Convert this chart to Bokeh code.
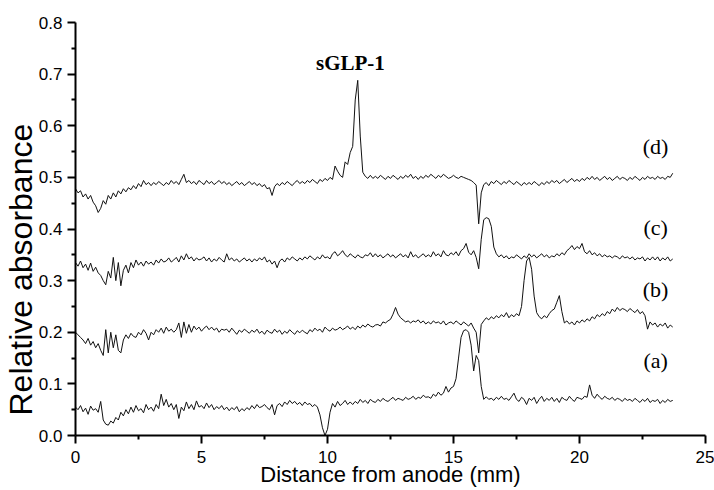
from bokeh.plotting import figure
from bokeh.models import Range1d, FixedTicker, PrintfTickFormatter, Label, ColumnDataSource, Title
from bokeh.embed import file_html
from bokeh.resources import INLINE

# ---- data ----
x_start = 0.0
x_step = 0.1
n_points = 238
distance_mm = [round(x_start + i * x_step, 1) for i in range(n_points)]

trace_a = [
    .055, .050, .058, .046, .053, .041, .057, .049, .052, .045,
    .066, .030, .022, .020, .028, .024, .035, .030, .045, .038,
    .050, .042, .055, .045, .058, .048, .052, .044, .060, .050,
    .055, .047, .060, .052, .080, .058, .070, .055, .062, .050,
    .060, .033, .055, .048, .065, .052, .060, .050, .067, .055,
    .058, .052, .063, .054, .060, .050, .056, .052, .058, .050,
    .055, .048, .054, .050, .056, .046, .052, .048, .054, .050,
    .058, .052, .060, .054, .056, .060, .054, .050, .060, .040,
    .058, .062, .056, .065, .060, .068, .062, .066, .060, .064,
    .058, .065, .060, .062, .056, .060, .055, .040, .015, .000,
    .012, .045, .062, .055, .066, .058, .062, .068, .060, .065,
    .060, .066, .062, .070, .064, .068, .062, .070, .066, .064,
    .070, .066, .072, .068, .066, .070, .074, .068, .072, .070,
    .068, .074, .070, .072, .076, .070, .074, .072, .078, .074,
    .075, .072, .080, .076, .084, .078, .082, .095, .084, .092,
    .095, .110, .150, .190, .203, .205, .200, .175, .125, .155,
    .145, .095, .070, .075, .070, .072, .068, .074, .070, .076,
    .070, .072, .068, .075, .082, .070, .066, .074, .070, .060,
    .072, .068, .074, .062, .070, .076, .066, .072, .068, .074,
    .066, .072, .064, .074, .070, .068, .076, .070, .066, .074,
    .072, .070, .076, .074, .098, .078, .072, .080, .074, .070,
    .076, .072, .070, .074, .068, .072, .070, .066, .072, .068,
    .070, .066, .072, .068, .064, .070, .066, .072, .064, .068,
    .066, .070, .062, .068, .064, .070, .066, .068,
]

trace_b = [
    .200, .195, .190, .185, .178, .188, .175, .182, .170, .178,
    .165, .155, .205, .160, .200, .170, .195, .165, .160, .185,
    .195, .188, .198, .192, .190, .200, .195, .205, .198, .185,
    .200, .195, .205, .200, .208, .198, .210, .202, .206, .200,
    .205, .218, .190, .220, .198, .215, .200, .212, .205, .210,
    .202, .208, .212, .205, .210, .204, .208, .200, .206, .204,
    .206, .200, .208, .202, .196, .204, .200, .206, .202, .198,
    .204, .200, .206, .198, .202, .196, .204, .200, .198, .206,
    .200, .204, .196, .202, .198, .205, .200, .196, .203, .199,
    .204, .200, .197, .205, .201, .208, .203, .206, .200, .210,
    .205, .202, .208, .204, .206, .210, .205, .208, .212, .206,
    .210, .205, .212, .208, .214, .210, .216, .212, .210, .214,
    .215, .212, .220, .218, .222, .225, .235, .248, .235, .228,
    .224, .220, .222, .218, .222, .220, .224, .218, .222, .216,
    .220, .216, .222, .218, .220, .216, .222, .214, .218, .220,
    .216, .222, .218, .214, .220, .216, .212, .218, .208, .200,
    .160, .215, .222, .228, .224, .230, .226, .232, .228, .234,
    .230, .238, .228, .234, .230, .236, .232, .250, .300, .338,
    .345, .322, .270, .238, .230, .226, .232, .228, .236, .242,
    .245, .258, .271, .240, .218, .222, .216, .220, .214, .222,
    .218, .224, .220, .226, .222, .230, .226, .234, .230, .236,
    .232, .240, .236, .245, .240, .248, .242, .246, .244, .240,
    .246, .242, .238, .244, .236, .240, .232, .206, .220, .214,
    .218, .210, .216, .212, .218, .208, .214, .210,
]

trace_c = [
    .335, .328, .338, .325, .332, .320, .334, .318, .326, .315,
    .310, .300, .292, .318, .305, .345, .300, .335, .290, .320,
    .330, .315, .335, .325, .340, .330, .336, .328, .338, .332,
    .336, .330, .340, .334, .342, .336, .338, .344, .336, .340,
    .345, .336, .348, .340, .352, .342, .346, .338, .344, .340,
    .342, .346, .338, .344, .336, .342, .338, .345, .340, .336,
    .352, .340, .344, .338, .342, .336, .340, .344, .338, .342,
    .336, .342, .338, .344, .340, .346, .336, .340, .332, .338,
    .325, .338, .342, .336, .344, .340, .346, .342, .338, .344,
    .340, .346, .342, .348, .344, .340, .346, .342, .350, .344,
    .346, .342, .352, .356, .348, .352, .358, .350, .346, .352,
    .348, .344, .350, .346, .344, .350, .348, .354, .346, .352,
    .346, .350, .344, .348, .352, .346, .350, .344, .348, .352,
    .346, .350, .344, .356, .346, .350, .344, .348, .352, .346,
    .350, .346, .356, .348, .352, .346, .358, .350, .348, .354,
    .350, .356, .348, .358, .362, .372, .355, .350, .358, .345,
    .323, .380, .418, .422, .420, .405, .365, .352, .346, .350,
    .344, .348, .342, .346, .344, .350, .346, .342, .348, .344,
    .352, .346, .350, .344, .348, .352, .346, .350, .344, .348,
    .346, .352, .348, .354, .350, .358, .362, .368, .360, .366,
    .362, .372, .356, .352, .358, .350, .354, .348, .352, .346,
    .350, .346, .348, .344, .348, .346, .342, .348, .344, .346,
    .342, .346, .340, .344, .342, .346, .338, .344, .340, .346,
    .340, .346, .338, .344, .340, .346, .338, .342,
]

trace_d = [
    .478, .470, .474, .462, .468, .458, .465, .452, .445, .432,
    .440, .455, .448, .465, .458, .470, .462, .474, .468, .478,
    .472, .480, .476, .484, .478, .488, .482, .494, .486, .490,
    .484, .490, .486, .492, .488, .484, .490, .486, .494, .488,
    .492, .486, .496, .506, .490, .494, .488, .492, .486, .494,
    .490, .486, .494, .488, .492, .486, .490, .494, .488, .492,
    .486, .490, .484, .488, .492, .486, .490, .484, .488, .492,
    .486, .490, .484, .488, .482, .486, .478, .480, .465, .482,
    .488, .484, .490, .486, .492, .488, .484, .490, .494, .488,
    .492, .488, .494, .490, .496, .492, .488, .496, .492, .498,
    .494, .500, .496, .522, .512, .504, .500, .530, .525, .548,
    .560, .650, .688, .580, .510, .502, .498, .504, .498, .502,
    .498, .504, .500, .496, .502, .498, .504, .500, .496, .502,
    .498, .504, .500, .506, .498, .502, .496, .502, .498, .504,
    .500, .506, .502, .498, .504, .500, .506, .502, .498, .500,
    .504, .500, .498, .502, .500, .498, .496, .494, .490, .485,
    .410, .470, .486, .490, .484, .492, .488, .494, .490, .486,
    .492, .488, .494, .490, .486, .492, .488, .484, .490, .486,
    .490, .486, .492, .488, .484, .490, .486, .492, .488, .494,
    .490, .494, .488, .492, .496, .490, .494, .498, .492, .496,
    .492, .498, .494, .500, .496, .502, .496, .500, .494, .498,
    .502, .496, .500, .494, .498, .502, .496, .500, .498, .494,
    .500, .496, .502, .498, .494, .500, .496, .502, .498, .500,
    .496, .502, .498, .500, .496, .502, .500, .508,
]

trace_names = ["(a)", "(b)", "(c)", "(d)"]
x_ticks = [0, 5, 10, 15, 20, 25]
x_minor = [2.5, 7.5, 12.5, 17.5, 22.5]
y_ticks = [0.0, 0.1, 0.2, 0.3, 0.4, 0.5, 0.6, 0.7, 0.8]
y_minor = [0.05, 0.15, 0.25, 0.35, 0.45, 0.55, 0.65, 0.75]
peak_label = "sGLP-1"

# ---- figure ----
p = figure(width=714, height=490, x_range=Range1d(0, 25), y_range=Range1d(0, 0.8),
           output_backend="svg", toolbar_location=None,
           min_border_left=75, min_border_right=9, min_border_top=22, min_border_bottom=55)
p.xgrid.visible = False
p.ygrid.visible = False
p.outline_line_color = None
p.background_fill_color = "white"
p.border_fill_color = "white"

src = ColumnDataSource(dict(x=distance_mm, a=trace_a, b=trace_b, c=trace_c, d=trace_d))
for col in ["a", "b", "c", "d"]:
    p.line("x", col, source=src, line_color="#111111", line_width=1)

for ax in (p.xaxis[0], p.yaxis[0]):
    ax.axis_line_width = 2
    ax.axis_line_color = "black"
    ax.major_tick_line_width = 2
    ax.minor_tick_line_width = 2
    ax.major_tick_line_color = "black"
    ax.minor_tick_line_color = "black"
    ax.major_tick_out = 8
    ax.major_tick_in = 0
    ax.minor_tick_out = 4
    ax.minor_tick_in = 0
    ax.major_label_text_font = "Liberation Sans"
    ax.major_label_text_font_size = "17px"
    ax.major_label_text_color = "black"

p.xaxis[0].ticker = FixedTicker(ticks=x_ticks, minor_ticks=x_minor)
p.yaxis[0].ticker = FixedTicker(ticks=y_ticks, minor_ticks=y_minor)
p.yaxis[0].formatter = PrintfTickFormatter(format="%.1f")
p.xaxis[0].major_label_standoff = 7
p.yaxis[0].major_label_standoff = 5

p.xaxis[0].axis_label = "Distance from anode (mm)"
p.xaxis[0].axis_label_text_font = "Liberation Sans"
p.xaxis[0].axis_label_text_font_size = "22px"
p.xaxis[0].axis_label_text_font_style = "normal"
p.xaxis[0].axis_label_text_color = "black"
p.xaxis[0].axis_label_standoff = -4

ytitle = Title(text="Relative absorbance", align="left", offset=20,
               text_font="Liberation Sans", text_font_size="32px",
               text_font_style="normal", text_color="black", standoff=-6)
p.add_layout(ytitle, "left")

label_y = {"(a)": 0.145, "(b)": 0.283, "(c)": 0.403, "(d)": 0.560}
for name in trace_names:
    p.add_layout(Label(x=23.02, y=label_y[name], text=name, text_align="center",
                       text_baseline="middle", text_font="Liberation Serif",
                       text_font_size="22px", text_color="black"))

p.add_layout(Label(x=10.91, y=0.722, text=peak_label, text_align="center",
                   text_baseline="middle", text_font="Liberation Serif",
                   text_font_size="21px", text_font_style="bold", text_color="black"))

open("out.html", "w").write(file_html(p, INLINE))
